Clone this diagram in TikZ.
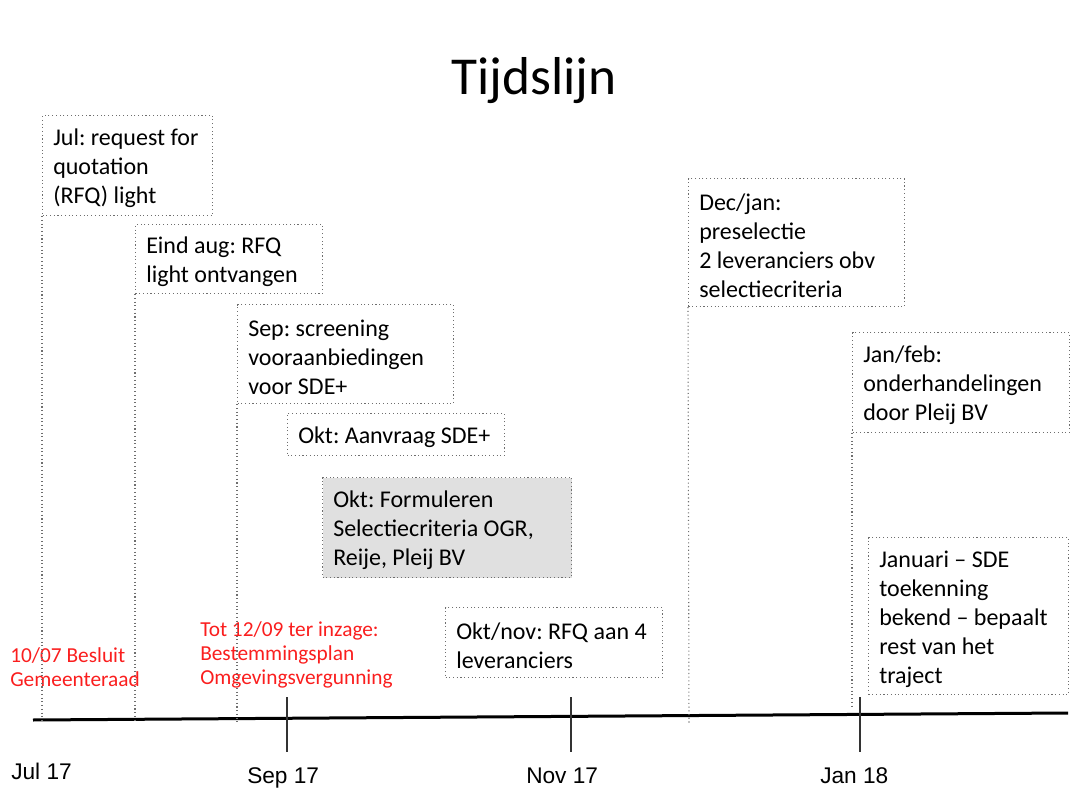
\documentclass[tikz,border=0pt]{standalone}
\usepackage{fontspec}
\setmainfont{Carlito}
\newfontfamily\axisfont{Liberation Sans}
\frenchspacing
\definecolor{dotgray}{RGB}{110,110,110}
\definecolor{boxgray}{RGB}{224,224,224}
\definecolor{notered}{RGB}{250,30,30}
\tikzset{
  evt/.style={draw=dotgray, dotted, line width=0.8pt, anchor=north west, inner sep=0pt},
  evttext/.style={anchor=west, inner sep=0pt, yshift=-2.25pt, align=left, font=\fontsize{18}{21.8}\selectfont},
  drop/.style={draw=dotgray, dotted, line width=0.8pt},
  note/.style={text=notered, anchor=west, inner sep=0pt, align=left, font=\fontsize{16}{18}\selectfont},
  month/.style={font=\axisfont\fontsize{17}{20}\selectfont, inner sep=0pt, anchor=base west},
  tick/.style={line width=1pt, draw=black!80}
}
\begin{document}
\begin{tikzpicture}[x=0.75pt,y=-0.75pt]
  \useasboundingbox (0,0) rectangle (1074,798);
  \node[font=\fontsize{40}{42}\selectfont] (title) at (534,81) {Tijdslijn};
  % event boxes
  \node[evt, minimum width=127.5pt, minimum height=75pt] (jul) at (42,115) {};
  \node[evt, minimum width=140.25pt, minimum height=51.75pt] (aug) at (135,224) {};
  \node[evt, minimum width=162pt, minimum height=74.25pt] (sep) at (237,304) {};
  \node[evt, minimum width=162.75pt, minimum height=31.5pt] (aanvraag) at (287,413) {};
  \node[evt, fill=boxgray, minimum width=186.75pt, minimum height=75pt] (formuleren) at (322,477) {};
  \node[evt, minimum width=162.75pt, minimum height=52.5pt] (rfq) at (445,607) {};
  \node[evt, minimum width=162pt, minimum height=96pt] (dec) at (688,178) {};
  \node[evt, minimum width=162.75pt, minimum height=75pt] (feb) at (852,332) {};
  \node[evt, minimum width=150pt, minimum height=117.75pt] (sde) at (868,537) {};
  % event texts
  \node[evttext] (jultext) at ([xshift=8.25pt]jul.west) {Jul: request for\\quotation\\(RFQ) light};
  \node[evttext] (augtext) at ([xshift=8.25pt]aug.west) {Eind aug: RFQ\\light ontvangen};
  \node[evttext] (septext) at ([xshift=8.25pt]sep.west) {Sep: screening\\vooraanbiedingen\\voor SDE+};
  \node[evttext] (aanvraagtext) at ([xshift=8.25pt]aanvraag.west) {Okt: Aanvraag SDE+};
  \node[evttext] (formulerentext) at ([xshift=8.25pt]formuleren.west) {Okt: Formuleren\\Selectiecriteria OGR,\\Reije, Pleij BV};
  \node[evttext] (rfqtext) at ([xshift=8.25pt]rfq.west) {Okt/nov: RFQ aan 4\\leveranciers};
  \node[evttext] (dectext) at ([xshift=8.25pt]dec.west) {Dec/jan:\\preselectie\\2 leveranciers obv\\selectiecriteria};
  \node[evttext] (febtext) at ([xshift=8.25pt]feb.west) {Jan/feb:\\onderhandelingen\\door Pleij BV};
  \node[evttext] (sdetext) at ([xshift=8.25pt]sde.west) {Januari -- SDE\\toekenning\\bekend -- bepaalt\\rest van het\\traject};
  % red notes
  \node[note] (besluit) at (10,667) {10/07 Besluit\\Gemeenteraad};
  \node[note] (inzage) at (200,655) {Tot 12/09 ter inzage:\\Bestemmingsplan\\Omgevingsvergunning};
  % axis
  \coordinate (ax0) at (33,720);
  \coordinate (ax1) at (1068,713);
  \draw[line width=2.25pt] (ax0) -- (ax1);
  \coordinate (d1) at (42,721);
  \coordinate (d2) at (135,722);
  \coordinate (d3) at (237,723);
  \coordinate (d7) at (689,723);
  \coordinate (d8) at (852,709);
  \draw[drop] (jul.south west) -- (d1);
  \draw[drop] (aug.south west) -- (d2);
  \draw[drop] (sep.south west) -- (d3);
  \draw[drop] (dec.south west) -- (d7);
  \draw[drop] (feb.south west) -- (d8);
  % ticks
  \coordinate (t1) at (287,697); \coordinate (b1) at (287,752);
  \coordinate (t2) at (571,697); \coordinate (b2) at (571,752);
  \coordinate (t3) at (860,697); \coordinate (b3) at (860,752);
  \draw[tick] (t1) -- (b1);
  \draw[tick] (t2) -- (b2);
  \draw[tick] (t3) -- (b3);
  \node[month] (jul17) at (11,779) {Jul 17};
  \node[month] (sep17) at (247,783) {Sep 17};
  \node[month] (nov17) at (526,783) {Nov 17};
  \node[month] (jan18) at (820,783) {Jan 18};
\end{tikzpicture}
\end{document}
